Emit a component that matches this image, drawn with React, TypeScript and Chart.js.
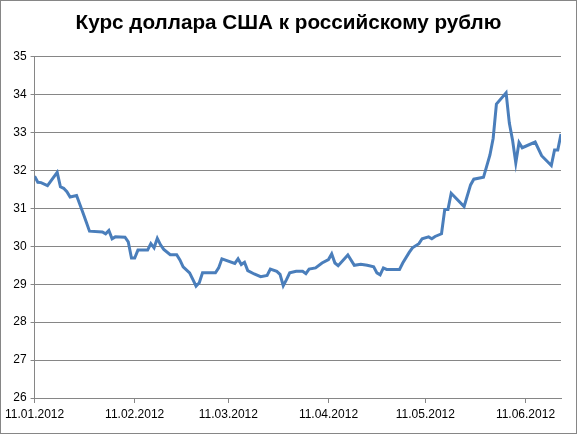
import { useEffect, useRef } from "react";
import Chart from "chart.js/auto";

// days counted from 11.01.2012
const dayOffsets = [
  0, 1, 2, 4, 7, 8, 9, 10, 11, 13, 15, 16, 17, 21, 22, 23, 24, 25, 28, 29, 30,
  31, 32, 35, 36, 37, 38, 39, 40, 42, 44, 45, 46, 48, 49, 50, 51, 52, 56, 57,
  58, 62, 63, 64, 65, 66, 68, 70, 72, 73, 75, 76, 77, 78, 79, 81, 83, 84, 85,
  87, 89, 91, 92, 93, 94, 97, 99, 101, 103, 105, 106, 107, 108, 109, 113, 114,
  116, 117, 119, 120, 122, 123, 124, 126, 127, 128, 129, 133, 135, 136, 139,
  141, 142, 143, 146, 147, 148, 149, 150, 151, 155, 157, 160, 161, 162, 163,
];

const rates = [
  31.85, 31.69, 31.68, 31.6, 31.95, 31.57, 31.53, 31.44, 31.3, 31.34, 30.88,
  30.64, 30.4, 30.38, 30.33, 30.42, 30.2, 30.25, 30.24, 30.12, 29.69, 29.69,
  29.9, 29.9, 30.07, 29.96, 30.21, 30.04, 29.92, 29.78, 29.78, 29.64, 29.46,
  29.3, 29.13, 28.95, 29.04, 29.3, 29.3, 29.43, 29.67, 29.55, 29.67, 29.52,
  29.58, 29.36, 29.27, 29.2, 29.23, 29.4, 29.34, 29.26, 28.96, 29.12, 29.3,
  29.34, 29.34, 29.28, 29.4, 29.43, 29.56, 29.65, 29.8, 29.56, 29.49, 29.77,
  29.5, 29.53, 29.5, 29.46, 29.3, 29.25, 29.43, 29.39, 29.39, 29.56, 29.84,
  29.96, 30.07, 30.2, 30.25, 30.2, 30.26, 30.33, 30.97, 30.97, 31.4, 31.05,
  31.62, 31.77, 31.82, 32.41, 32.85, 33.75, 34.05, 33.25, 32.8, 32.2, 32.74,
  32.6, 32.75, 32.39, 32.13, 32.54, 32.54, 32.96,
];

const tickDays = [0, 31, 60, 91, 121, 152];
const tickLabels = [
  "11.01.2012",
  "11.02.2012",
  "11.03.2012",
  "11.04.2012",
  "11.05.2012",
  "11.06.2012",
];

const gridColor = "#868686";

export default function App() {
  const chartRef = useRef<HTMLCanvasElement | null>(null);

  useEffect(() => {
    if (!chartRef.current) return;
    const ctx = chartRef.current.getContext("2d");
    if (!ctx) return;

    const chart = new Chart(ctx, {
      type: "line",
      data: {
        datasets: [
          {
            label: "USD/RUB",
            data: dayOffsets.map((d, i) => ({ x: d, y: rates[i] })),
            borderColor: "#4a7ebb",
            borderWidth: 3,
            pointRadius: 0,
            tension: 0,
            fill: false,
          },
        ],
      },
      options: {
        animation: false,
        responsive: true,
        maintainAspectRatio: false,
        layout: { padding: 0 },
        plugins: {
          legend: { display: false },
          tooltip: { enabled: false },
          title: {
            display: true,
            text: "Курс доллара США к российскому рублю",
            color: "#000",
            font: { family: "'Liberation Sans', Arial, sans-serif", size: 20.7, weight: "bold" },
            padding: { top: 9.5, bottom: 21.4 },
          },
        },
        scales: {
          x: {
            type: "linear",
            min: 0,
            max: 163,
            afterBuildTicks: (scale) => {
              scale.ticks = tickDays.map((v) => ({ value: v }));
            },
            afterFit: (scale) => {
              scale.height = 35;
            },
            ticks: {
              autoSkip: false,
              maxRotation: 0,
              padding: 4,
              color: "#000",
              font: { family: "'Liberation Sans', Arial, sans-serif", size: 12 },
              callback: (value) => {
                const i = tickDays.indexOf(Number(value));
                return i >= 0 ? tickLabels[i] : "";
              },
            },
            grid: {
              drawOnChartArea: false,
              drawTicks: true,
              tickLength: 5,
              color: gridColor,
            },
            border: { color: gridColor },
          },
          y: {
            min: 26,
            max: 35,
            afterFit: (scale) => {
              scale.width = 33;
            },
            ticks: {
              stepSize: 1,
              padding: 4,
              color: "#000",
              font: { family: "'Liberation Sans', Arial, sans-serif", size: 12 },
            },
            grid: { color: gridColor, tickLength: 4 },
            border: { color: gridColor },
          },
          // empty right margin, keeps the title centred on the whole chart
          yRight: {
            position: "right",
            min: 26,
            max: 35,
            grid: { display: false },
            ticks: { display: false },
            border: { display: false },
            afterFit: (scale) => {
              scale.width = 15;
            },
          },
        },
      },
    });

    return () => {
      chart.destroy();
    };
  }, []);

  return (
    <div
      style={{
        position: "fixed",
        left: 0,
        top: 0,
        width: 577,
        height: 434,
        boxSizing: "border-box",
        border: "1px solid #868686",
        background: "#fff",
      }}
    >
      <canvas ref={chartRef} />
    </div>
  );
}
